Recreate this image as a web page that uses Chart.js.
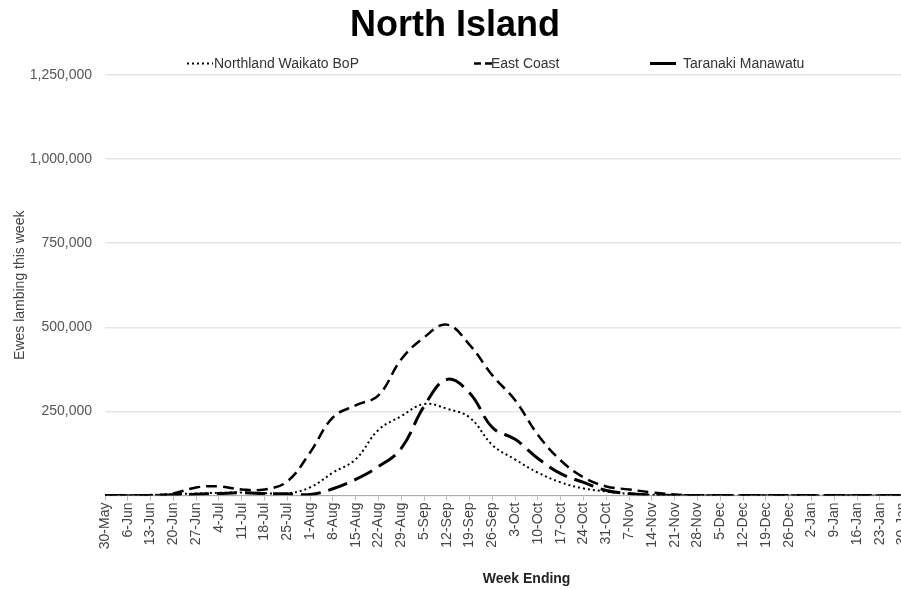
<!DOCTYPE html>
<html>
<head>
<meta charset="utf-8">
<script src="https://cdn.jsdelivr.net/npm/chart.js@4.4.1/dist/chart.umd.min.js"></script>
<style>
  body { margin: 0; background: #fff; overflow: hidden; }
  #wrap { position: relative; width: 901px; height: 590px; overflow: hidden; font-family: "Liberation Sans", Arial, sans-serif; }
  #chart { position: absolute; left: 0; top: 0; }
  #title { position: absolute; left: 0; top: 6px; width: 910px; text-align: center; font-size: 36px; line-height: 35px; font-weight: bold; color: #000; }
  .leg { position: absolute; top: 56px; font-size: 14px; line-height: 14px; color: #333; white-space: nowrap; }
  .leg svg { position: absolute; top: 0; }
</style>
</head>
<body>
<div id="wrap">
  <canvas id="chart" width="967" height="590"></canvas>
  <div id="title">North Island</div>
  <div class="leg" style="left:186px;"><svg width="28" height="14" style="left:0"><line x1="1" y1="7.5" x2="27" y2="7.5" stroke="#000" stroke-width="2" stroke-dasharray="2,3"/></svg><span style="margin-left:28px">Northland Waikato BoP</span></div>
  <div class="leg" style="left:474px;"><svg width="18" height="14" style="left:0"><line x1="0" y1="7.5" x2="18" y2="7.5" stroke="#000" stroke-width="2.5" stroke-dasharray="7,4"/></svg><span style="margin-left:17px">East Coast</span></div>
  <div class="leg" style="left:650px;"><svg width="28" height="14" style="left:0"><line x1="0" y1="7.5" x2="26" y2="7.5" stroke="#000" stroke-width="3"/></svg><span style="margin-left:33px">Taranaki Manawatu</span></div>
</div>
<script>
const weeks = ['30-May', '6-Jun', '13-Jun', '20-Jun', '27-Jun', '4-Jul', '11-Jul', '18-Jul', '25-Jul',
  '1-Aug', '8-Aug', '15-Aug', '22-Aug', '29-Aug', '5-Sep', '12-Sep', '19-Sep', '26-Sep',
  '3-Oct', '10-Oct', '17-Oct', '24-Oct', '31-Oct', '7-Nov', '14-Nov', '21-Nov', '28-Nov',
  '5-Dec', '12-Dec', '19-Dec', '26-Dec', '2-Jan', '9-Jan', '16-Jan', '23-Jan', '30-Jan',
  '6-Feb', '13-Feb'];

const northland = [0, 0, 2000, 4000, 6000, 8000, 9000, 7000, 6000,
  24000, 68000, 108000, 195000, 236000, 272000, 258000, 232000, 150000,
  107000, 68000, 39000, 21000, 12000, 5000, 2000, 1000, 0,
  0, 0, 0, 0, 0, 0, 0, 0, 0, 0, 0];

const eastCoast = [0, 0, 0, 6000, 24000, 27000, 18000, 18000, 42000,
  128000, 232000, 268000, 298000, 405000, 470000, 508000, 448000, 357000,
  283000, 180000, 104000, 54000, 27000, 18000, 9000, 3000, 0,
  0, 0, 0, 0, 0, 0, 0, 0, 0, 0, 0];

const taranaki = [0, 0, 0, 2000, 4000, 6000, 8000, 6000, 5000,
  3000, 20000, 48000, 86000, 140000, 265000, 345000, 305000, 202000,
  167000, 110000, 65000, 39000, 15000, 6000, 2000, 0, 0,
  0, 0, 0, 0, 0, 0, 0, 0, 0, 0, 0];

const yTicks = [0, 250000, 500000, 750000, 1000000, 1250000];

const font = 'Liberation Sans, Arial, sans-serif';

const ctx = document.getElementById('chart').getContext('2d');
const chart = new Chart(ctx, {
  type: 'line',
  data: {
    labels: weeks,
    datasets: [
      {
        label: 'Northland Waikato BoP',
        data: northland,
        borderColor: '#000',
        borderWidth: 2,
        borderDash: [2, 3],
        pointRadius: 0,
        tension: 0.4,
        fill: false
      },
      {
        label: 'East Coast',
        data: eastCoast,
        borderColor: '#000',
        borderWidth: 2.5,
        borderDash: [11, 6],
        pointRadius: 0,
        tension: 0.4,
        fill: false
      },
      {
        label: 'Taranaki Manawatu',
        data: taranaki,
        borderColor: '#000',
        borderWidth: 3,
        borderDash: [20, 8],
        pointRadius: 0,
        tension: 0.4,
        fill: false
      }
    ]
  },
  options: {
    responsive: false,
    animation: false,
    layout: {
      padding: { top: 75, left: 0, right: 13, bottom: 0 }
    },
    plugins: {
      legend: { display: false },
      title: { display: false },
      tooltip: { enabled: false }
    },
    scales: {
      x: {
        offset: false,
        border: { color: '#aaa' },
        grid: {
          drawOnChartArea: false,
          drawTicks: true,
          tickLength: 5,
          color: '#bbb'
        },
        ticks: {
          autoSkip: false,
          minRotation: 90,
          maxRotation: 90,
          padding: 2,
          color: '#444',
          font: { family: font, size: 14 }
        },
        title: {
          display: true,
          text: 'Week Ending',
          color: '#222',
          padding: { top: 20, bottom: 2 },
          font: { family: font, size: 14, weight: 'bold' }
        }
      },
      y: {
        min: 0,
        max: 1250000,
        afterBuildTicks: (scale) => {
          scale.ticks = yTicks.map(v => ({ value: v }));
        },
        afterFit: (scale) => {
          // plot area starts at x=105 in the reference
          scale.width = 105;
        },
        border: { display: false },
        grid: {
          color: '#e6e6e6',
          lineWidth: 1.5,
          drawTicks: false
        },
        ticks: {
          padding: 13,
          color: '#555',
          font: { family: font, size: 14 },
          callback: (v) => v === 0 ? '' : v.toLocaleString('en-US')
        },
        title: {
          display: true,
          text: 'Ewes lambing this week',
          color: '#444',
          padding: { top: 12, bottom: 2 },
          font: { family: font, size: 14 }
        }
      }
    }
  }
});
</script>
</body>
</html>
